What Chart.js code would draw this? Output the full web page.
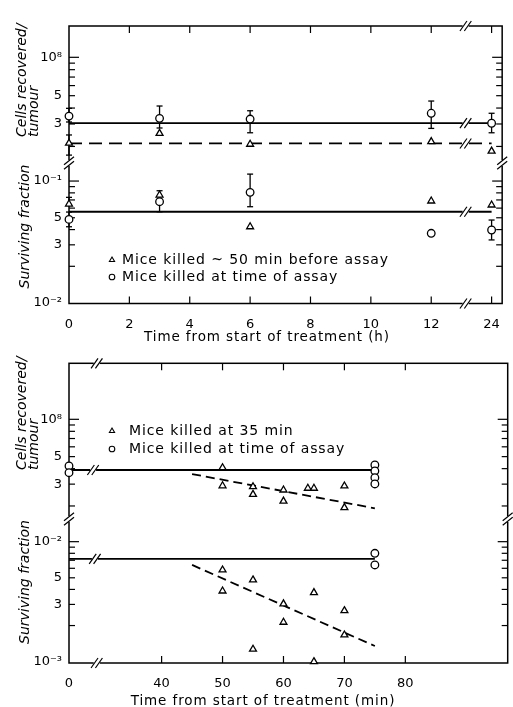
<!DOCTYPE html>
<html><head><meta charset="utf-8">
<script src="https://cdn.jsdelivr.net/npm/chart.js@4.4.1/dist/chart.umd.min.js"></script>
<style>
html,body{margin:0;padding:0;background:#fff;width:513px;height:707px;overflow:hidden;}
canvas{position:absolute;left:0;}
#c1{top:0;}
#c2{top:345px;}
</style></head><body>
<canvas id="c1" width="513" height="345"></canvas>
<canvas id="c2" width="513" height="362"></canvas>
<script>
// ================= DATA: upper figure (time in hours) =================
const hours = [0, 3, 6, 12, 24];
const cellsAssay   = [3.46e7, 3.32e7, 3.28e7, 3.64e7, 3.04e7];
const cellsAssayLo = [3.11e7, 2.79e7, 2.56e7, 2.77e7, 2.56e7];
const cellsAssayHi = [3.98e7, 4.15e7, 3.81e7, 4.54e7, 3.64e7];
const cellsEarly   = [2.12e7, 2.53e7, 2.08e7, 2.18e7, 1.84e7];
const cellsEarlyLo = [1.71e7, null, null, null, null];
const cellsEarlyHi = [2.46e7, null, null, null, null];
const survAssay    = [0.0485, 0.0677, 0.0808, 0.0373, 0.0397];
const survAssayLo  = [0.0422, 0.0560, 0.0616, null, 0.0329];
const survAssayHi  = [0.0557, null, 0.114, null, 0.0479];
const survEarly    = [0.0648, 0.0768, 0.0422, 0.0686, 0.0636];
const survEarlyHi  = [0.0735, 0.0833, null, null, null];
const fitHours = [0, 24];
const cellsAssayFit = 3.05e7;
const cellsEarlyFit = 2.11e7;
const survFit = 0.056;
const hourTicks = [0, 2, 4, 6, 8, 10, 12, 24];
const hourTickLabels = ['0', '2', '4', '6', '8', '10', '12', '24'];

// ================= DATA: lower figure (time in minutes) =================
const cellsAssayMin = [0, 0, 75, 75, 75, 75];
const cellsAssay2   = [4.2e7, 3.71e7, 4.28e7, 3.83e7, 3.38e7, 3.01e7];
const cellsEarlyMin = [50, 50, 55, 55, 60, 60, 64, 65, 70, 70];
const cellsEarly2   = [4.07e7, 2.91e7, 2.86e7, 2.48e7, 2.69e7, 2.19e7, 2.78e7, 2.78e7, 2.9e7, 1.94e7];
const survAssayMin  = [75, 75];
const survAssay2    = [8.0e-3, 6.4e-3];
const survEarlyMin  = [50, 50, 55, 55, 60, 60, 65, 65, 70, 70];
const survEarly2    = [5.81e-3, 3.88e-3, 4.8e-3, 1.27e-3, 3.03e-3, 2.13e-3, 3.76e-3, 1.0e-3, 2.66e-3, 1.67e-3];
const assayFitMin = [0, 75];
const cellsAssayFit2 = 3.9e7;
const survAssayFit2 = 7.18e-3;
const earlyFitMin = [45, 75];
const cellsEarlyFit2 = [3.62e7, 1.915e7];
const survEarlyFit2 = [6.4e-3, 1.35e-3];
const minTicks = [0, 40, 50, 60, 70, 80];
const minTickLabels = ['0', '40', '50', '60', '70', '80'];

// ================= tick labels of the log axes =================
const cellsTickValues = [3e7, 5e7, 1e8];
const cellsTickLabels = ['3', '5', '10\u2078'];
const surv1TickValues = [0.01, 0.03, 0.05, 0.1];
const surv1TickLabels = ['10\u207B\u00B2', '3', '5', '10\u207B\u00B9'];
const surv2TickValues = [0.001, 0.003, 0.005, 0.01];
const surv2TickLabels = ['10\u207B\u00B3', '3', '5', '10\u207B\u00B2'];
const cellsMinor = [2e7, 3e7, 4e7, 5e7, 6e7, 7e7, 8e7, 9e7];
const surv1Minor = [0.02, 0.03, 0.04, 0.05, 0.06, 0.07, 0.08, 0.09];
const surv2Minor = [0.002, 0.003, 0.004, 0.005, 0.006, 0.007, 0.008, 0.009];

// ---- broken-axis transforms (axis position of a time value) ----
const hPos = h => (h <= 12 ? h : h - 10);      // 24 h is drawn two units after 12 h
const MIN_ORIGIN = 24.8;                        // where 0 min sits on the broken axis
const mPos = m => (m === 0 ? MIN_ORIGIN : m);

Chart.defaults.font.family = "'DejaVu Sans', sans-serif";
Chart.defaults.color = '#000';
Chart.defaults.animation = false;

function pts(xs, ys, axis, style, r) {
  return {
    data: xs.map((x, i) => ({x, y: ys[i]})), yAxisID: axis,
    pointStyle: style, pointRadius: r, pointBorderWidth: 1.3,
    pointBorderColor: '#000', pointBackgroundColor: '#fff',
    showLine: false, clip: false
  };
}
function fit(xs, ys, axis, dash) {
  return {
    data: xs.map((x, i) => ({x, y: ys[i]})), yAxisID: axis,
    showLine: true, pointRadius: 0, borderColor: '#000', borderWidth: 1.8,
    borderDash: dash, clip: false
  };
}
function logAxis(weight, min, max, vals, labels) {
  return {
    type: 'logarithmic', position: 'left', stack: 'L', stackWeight: weight,
    min, max, grid: {display: false, drawTicks: false}, border: {display: false},
    afterBuildTicks: s => { s.ticks = vals.map(v => ({value: v})); },
    afterFit: s => { s.width = 69; },
    ticks: {autoSkip: false, padding: 7, font: {size: 13},
      callback: (v, i) => labels[i]}
  };
}
function xAxis(min, max, vals, labels, h) {
  return {
    type: 'linear', min, max, grid: {display: false, drawTicks: false}, border: {display: false},
    afterBuildTicks: s => { s.ticks = vals.map(v => ({value: v})); },
    afterFit: s => { s.height = h; },
    ticks: {autoSkip: false, maxRotation: 0, padding: 13, font: {size: 13},
      callback: (v, i) => labels[i]}
  };
}
function seg(ctx, x1, y1, x2, y2) { ctx.beginPath(); ctx.moveTo(x1, y1); ctx.lineTo(x2, y2); ctx.stroke(); }
function slashH(ctx, x, y) {
  ctx.fillStyle = '#fff'; ctx.fillRect(x - 3, y - 2.5, 6, 5);
  ctx.strokeStyle = '#000'; ctx.lineWidth = 1.2;
  for (const d of [-2.2, 2.2]) seg(ctx, x + d - 3.5, y + 5, x + d + 3.5, y - 5);
}
function slashV(ctx, x, y) {
  ctx.fillStyle = '#fff'; ctx.fillRect(x - 2.5, y - 3, 5, 6);
  ctx.strokeStyle = '#000'; ctx.lineWidth = 1.2;
  for (const d of [-2.2, 2.2]) seg(ctx, x - 5, y + 4 + d, x + 5, y - 4 + d);
}

function decor(o) {
  return {
    id: 'decor',
    beforeDatasetsDraw(chart) {
      const ctx = chart.ctx, a = chart.chartArea, xs = chart.scales.x;
      ctx.save();
      ctx.strokeStyle = '#000'; ctx.lineWidth = 1.5;
      ctx.strokeRect(a.left, a.top, a.right - a.left, a.bottom - a.top);
      ctx.lineWidth = 1.2;
      o.xTicks.forEach(v => { const p = xs.getPixelForValue(v); seg(ctx, p, a.top, p, a.top + 7); seg(ctx, p, a.bottom, p, a.bottom - 7); });
      o.yTicks.forEach(t => {
        const s = chart.scales[t.axis];
        t.minor.forEach(v => { const p = s.getPixelForValue(v); seg(ctx, a.left, p, a.left + 6, p); seg(ctx, a.right, p, a.right - 6, p); });
        t.major.forEach(v => { const p = s.getPixelForValue(v); seg(ctx, a.left, p, a.left + 10, p); seg(ctx, a.right, p, a.right - 10, p); });
      });
      ctx.lineWidth = 1.3;
      o.errorBars.forEach(e => {
        const s = chart.scales[e.axis];
        e.xs.forEach((xv, i) => {
          if (e.lo[i] == null && e.hi[i] == null) return;
          const px = xs.getPixelForValue(xv);
          const lo = s.getPixelForValue(e.lo[i] != null ? e.lo[i] : e.val[i]);
          const hi = s.getPixelForValue(e.hi[i] != null ? e.hi[i] : e.val[i]);
          seg(ctx, px, lo, px, hi);
          if (e.lo[i] != null) seg(ctx, px - 3, lo, px + 3, lo);
          if (e.hi[i] != null) seg(ctx, px - 3, hi, px + 3, hi);
        });
      });
      ctx.restore();
    },
    afterDatasetsDraw(chart) {
      const ctx = chart.ctx, a = chart.chartArea, xs = chart.scales.x;
      ctx.save();
      o.breaksH.forEach(b => {
        const px = xs.getPixelForValue(b.x);
        const py = b.pos === 'top' ? a.top : b.pos === 'bottom' ? a.bottom : chart.scales[b.axis].getPixelForValue(b.v);
        slashH(ctx, px, py);
      });
      const yb = chart.scales[o.upperAxis].bottom;
      slashV(ctx, a.left, yb); slashV(ctx, a.right, yb);
      // legend
      ctx.font = "14px 'DejaVu Sans'"; ctx.textBaseline = 'middle'; ctx.textAlign = 'left';
      ctx.letterSpacing = '0.9px';
      o.legend.forEach(l => {
        ctx.fillStyle = '#fff'; ctx.strokeStyle = '#000'; ctx.lineWidth = 1.1;
        Chart.helpers.drawPoint(ctx, {pointStyle: l.style, radius: l.r, borderWidth: 1.1, rotation: 0}, l.mx, l.y);
        ctx.fillStyle = '#000';
        ctx.fillText(l.text, l.tx, l.y + 0.5);
      });
      // x title
      ctx.fillStyle = '#000';
      ctx.font = "13.5px 'DejaVu Sans'"; ctx.textAlign = 'center';
      ctx.fillText(o.xTitle.text, o.xTitle.x, o.xTitle.y);
      ctx.letterSpacing = '0px';
      // y titles
      ctx.font = "italic 14px 'DejaVu Sans'"; ctx.textBaseline = 'alphabetic';
      o.yTitles.forEach(t => {
        ctx.save(); ctx.translate(t.x, t.y); ctx.rotate(-Math.PI / 2);
        ctx.textAlign = t.align; ctx.fillText(t.text, 0, 0); ctx.restore();
      });
      ctx.restore();
    }
  };
}

// ---------------- upper figure ----------------
const HB = 13.14; // axis position of the 12 h | 24 h break
const hx = hours.map(hPos);
new Chart(document.getElementById('c1'), {
  type: 'scatter',
  data: {datasets: [
    pts(hx, cellsAssay, 'yC', 'circle', 3.8),
    pts(hx, cellsEarly, 'yC', 'triangle', 4),
    pts(hx, survAssay, 'yS', 'circle', 3.8),
    pts(hx, survEarly, 'yS', 'triangle', 4),
    fit(fitHours.map(hPos), [cellsAssayFit, cellsAssayFit], 'yC', []),
    fit(fitHours.map(hPos), [cellsEarlyFit, cellsEarlyFit], 'yC', [13, 7]),
    fit(fitHours.map(hPos), [survFit, survFit], 'yS', [])
  ]},
  options: {
    responsive: false, animation: false,
    layout: {padding: {top: 26, right: 4, left: 0, bottom: 0}},
    plugins: {legend: {display: false}, tooltip: {enabled: false}},
    scales: {
      x: xAxis(0, 14.35, hourTicks.map(hPos), hourTickLabels, 41.5),
      yS: logAxis(140.5, 0.00991, 0.1406, surv1TickValues, surv1TickLabels),
      yC: logAxis(137, 1.483e7, 1.76e8, cellsTickValues, cellsTickLabels)
    }
  },
  plugins: [decor({
    xTicks: hourTicks.slice(1).map(hPos),
    yTicks: [{axis: 'yC', minor: cellsMinor, major: [1e8]}, {axis: 'yS', minor: surv1Minor, major: [0.1]}],
    errorBars: [
      {axis: 'yC', xs: hx, val: cellsAssay, lo: cellsAssayLo, hi: cellsAssayHi},
      {axis: 'yC', xs: hx, val: cellsEarly, lo: cellsEarlyLo, hi: cellsEarlyHi},
      {axis: 'yS', xs: hx, val: survAssay, lo: survAssayLo, hi: survAssayHi},
      {axis: 'yS', xs: hx, val: survEarly, lo: hours.map(() => null), hi: survEarlyHi}
    ],
    breaksH: [
      {x: HB, pos: 'top'}, {x: HB, pos: 'bottom'},
      {x: HB, axis: 'yC', v: cellsAssayFit}, {x: HB, axis: 'yC', v: cellsEarlyFit},
      {x: HB, axis: 'yS', v: survFit}
    ],
    upperAxis: 'yC',
    legend: [
      {style: 'triangle', r: 3, mx: 112, tx: 122, y: 260, text: 'Mice killed ~ 50 min before assay'},
      {style: 'circle', r: 2.8, mx: 112, tx: 122, y: 277, text: 'Mice killed at time of assay'}
    ],
    xTitle: {text: 'Time from start of treatment (h)', x: 267, y: 337},
    yTitles: [
      {text: 'Cells recovered/', x: 25.5, y: 137, align: 'left'},
      {text: 'tumour', x: 37.5, y: 137, align: 'left'},
      {text: 'Surviving fraction', x: 29, y: 226.5, align: 'center'}
    ]
  })]
});

// ---------------- lower figure ----------------
const MB = 29.35; // axis position of the 0 | 40 min break
new Chart(document.getElementById('c2'), {
  type: 'scatter',
  data: {datasets: [
    pts(cellsAssayMin.map(mPos), cellsAssay2, 'yC', 'circle', 3.8),
    pts(cellsEarlyMin.map(mPos), cellsEarly2, 'yC', 'triangle', 4),
    pts(survAssayMin.map(mPos), survAssay2, 'yS', 'circle', 3.8),
    pts(survEarlyMin.map(mPos), survEarly2, 'yS', 'triangle', 4),
    fit(assayFitMin.map(mPos), [cellsAssayFit2, cellsAssayFit2], 'yC', []),
    fit(earlyFitMin.map(mPos), cellsEarlyFit2, 'yC', [9, 5]),
    fit(assayFitMin.map(mPos), [survAssayFit2, survAssayFit2], 'yS', []),
    fit(earlyFitMin.map(mPos), survEarlyFit2, 'yS', [9, 5])
  ]},
  options: {
    responsive: false, animation: false,
    layout: {padding: {top: 18.3, right: 3, left: 0, bottom: 0}},
    plugins: {legend: {display: false}, tooltip: {enabled: false}},
    scales: {
      x: xAxis(MIN_ORIGIN, 96.8, minTicks.map(mPos), minTickLabels, 44),
      yS: logAxis(144, 9.75e-4, 0.01545, surv2TickValues, surv2TickLabels),
      yC: logAxis(155.7, 1.57e7, 2.83e8, cellsTickValues, cellsTickLabels)
    }
  },
  plugins: [decor({
    xTicks: minTicks.slice(1),
    yTicks: [{axis: 'yC', minor: cellsMinor, major: [1e8]}, {axis: 'yS', minor: surv2Minor, major: [0.01]}],
    errorBars: [],
    breaksH: [
      {x: MB, pos: 'top'}, {x: MB, pos: 'bottom'},
      {x: MB - 0.6, axis: 'yC', v: cellsAssayFit2}, {x: MB - 0.3, axis: 'yS', v: survAssayFit2}
    ],
    upperAxis: 'yC',
    legend: [
      {style: 'triangle', r: 3, mx: 112, tx: 129, y: 86, text: 'Mice killed at 35 min'},
      {style: 'circle', r: 2.8, mx: 112, tx: 129, y: 104, text: 'Mice killed at time of assay'}
    ],
    xTitle: {text: 'Time from start of treatment (min)', x: 263, y: 356},
    yTitles: [
      {text: 'Cells recovered/', x: 25.5, y: 125, align: 'left'},
      {text: 'tumour', x: 37.5, y: 125, align: 'left'},
      {text: 'Surviving fraction', x: 29, y: 237, align: 'center'}
    ]
  })]
});
</script>
</body></html>
